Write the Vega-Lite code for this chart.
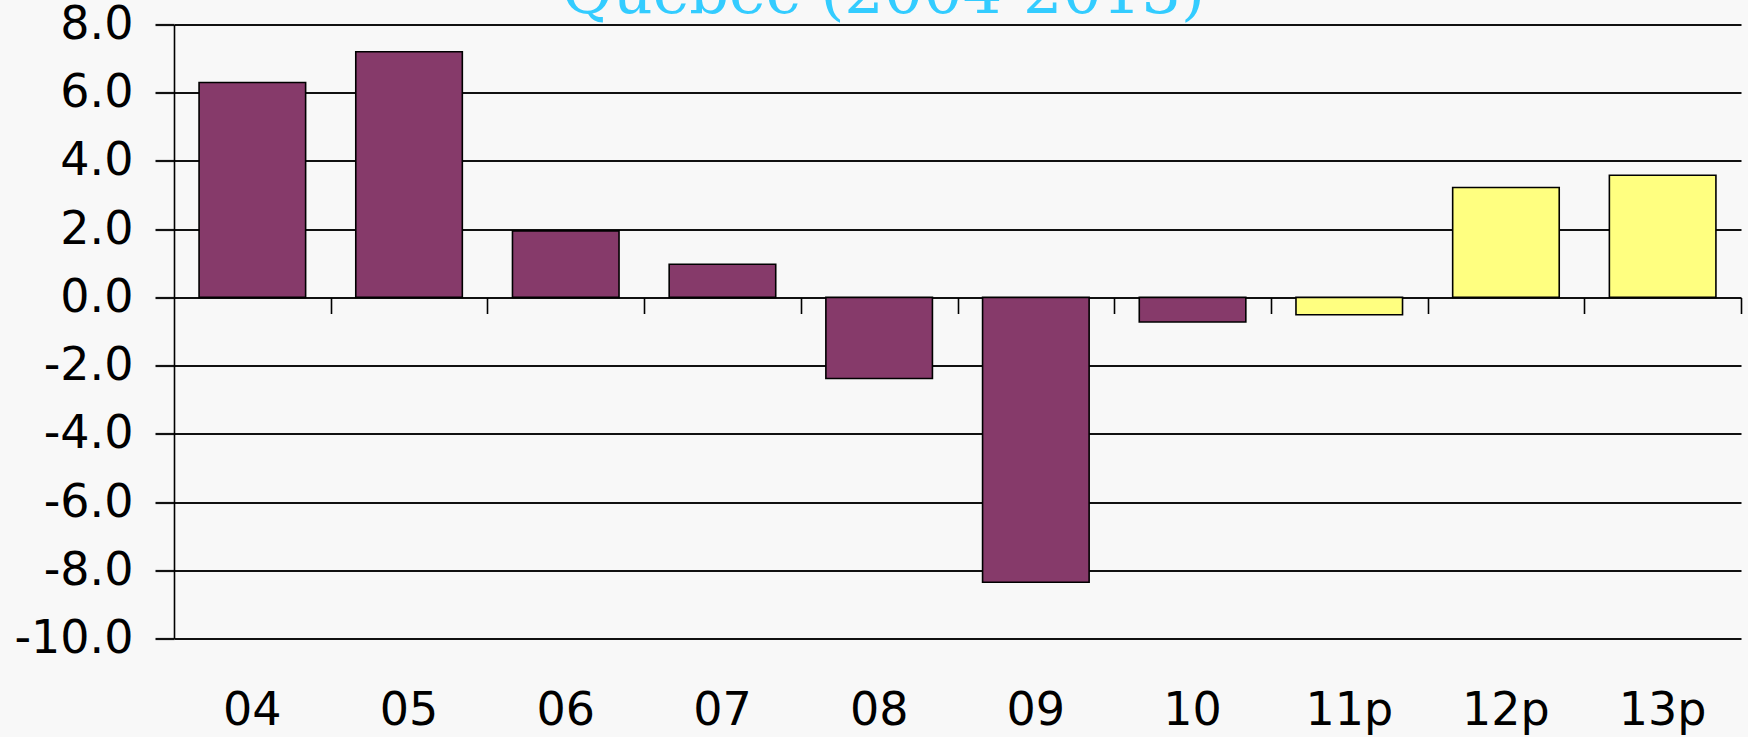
{
  "$schema": "https://vega.github.io/schema/vega-lite/v6.json",
  "autosize": {"type": "none"},
  "width": 1567,
  "height": 614,
  "padding": {"left": 174, "top": 24.5, "right": 7, "bottom": 98.5},
  "background": "#F8F8F8",
  "title": {
    "text": "Québec (2004-2013)",
    "font": "DejaVu Serif",
    "fontSize": 62,
    "fontWeight": "normal",
    "color": "#33CCFF",
    "anchor": "middle",
    "frame": "group",
    "dx": -74,
    "baseline": "alphabetic",
    "offset": -73
  },
  "data": {
    "values": [
      {"year": "04", "value": 6.3, "kind": "actual"},
      {"year": "05", "value": 7.2, "kind": "actual"},
      {"year": "06", "value": 1.95, "kind": "actual"},
      {"year": "07", "value": 0.97, "kind": "actual"},
      {"year": "08", "value": -2.38, "kind": "actual"},
      {"year": "09", "value": -8.35, "kind": "actual"},
      {"year": "10", "value": -0.72, "kind": "actual"},
      {"year": "11p", "value": -0.51, "kind": "forecast"},
      {"year": "12p", "value": 3.22, "kind": "forecast"},
      {"year": "13p", "value": 3.58, "kind": "forecast"}
    ]
  },
  "config": {
    "view": {"stroke": null},
    "axis": {"labelFont": "DejaVu Sans", "labelColor": "#000000"}
  },
  "resolve": {"axis": {"x": "independent"}},
  "layer": [
    {
      "mark": {"type": "bar", "stroke": "#000000", "strokeWidth": 1.6},
      "encoding": {
        "x": {
          "field": "year",
          "type": "nominal",
          "sort": null,
          "scale": {"paddingInner": 0.32, "paddingOuter": 0.16},
          "axis": {
            "title": null,
            "orient": "bottom",
            "domain": false,
            "ticks": false,
            "grid": false,
            "labelAngle": 0,
            "labelFontSize": 46,
            "labelPadding": 50,
            "labelBaseline": "top"
          }
        },
        "y": {
          "field": "value",
          "type": "quantitative",
          "scale": {"domain": [-10, 8], "nice": false, "zero": false},
          "axis": {
            "title": null,
            "values": [-10, -8, -6, -4, -2, 0, 2, 4, 6, 8],
            "format": ".1f",
            "labelExpr": "replace(datum.label, '−', '-')",
            "labelFontSize": 46,
            "labelPadding": 22,
            "tickSize": 19,
            "tickColor": "#111111",
            "tickWidth": 2.2,
            "domainColor": "#000000",
            "domainWidth": 1.6,
            "grid": true,
            "gridColor": "#111111",
            "gridWidth": 2.2,
            "gridOpacity": 1
          }
        },
        "color": {
          "field": "kind",
          "type": "nominal",
          "scale": {"domain": ["actual", "forecast"], "range": ["#863A6A", "#FFFF80"]},
          "legend": null
        }
      }
    },
    {
      "mark": {"type": "bar", "opacity": 0},
      "encoding": {
        "x": {
          "field": "year",
          "type": "nominal",
          "sort": null,
          "axis": {
            "title": null,
            "orient": "bottom",
            "offset": -341,
            "domain": false,
            "labels": false,
            "grid": false,
            "ticks": true,
            "tickBand": "center",
            "tickOffset": 78.35,
            "tickSize": 16,
            "tickColor": "#000000",
            "tickWidth": 1.6
          }
        },
        "y": {"field": "value", "type": "quantitative"}
      }
    }
  ]
}
